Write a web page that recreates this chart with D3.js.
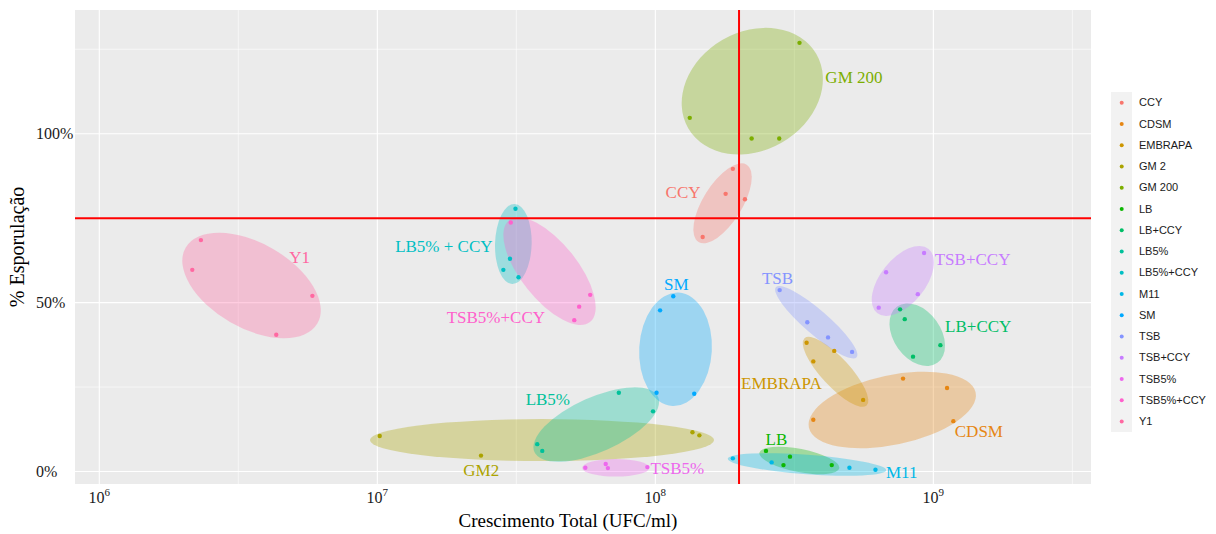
<!DOCTYPE html>
<html>
<head>
<meta charset="utf-8">
<script src="https://cdn.jsdelivr.net/npm/d3@7"></script>
<style>
  body { margin: 0; background: #fff; }
  svg { display: block; }
  .serif { font-family: "Liberation Serif", "Times New Roman", serif; }
  .sans { font-family: "Liberation Sans", Arial, sans-serif; }
</style>
</head>
<body>
<svg id="chart" width="1216" height="534"></svg>
<script>
// groups in legend order (ggplot hue palette, 16 levels)
var groups = ['CCY', 'CDSM', 'EMBRAPA', 'GM 2', 'GM 200', 'LB', 'LB+CCY', 'LB5%',
              'LB5%+CCY', 'M11', 'SM', 'TSB', 'TSB+CCY', 'TSB5%', 'TSB5%+CCY', 'Y1'];
var group_colors = ['#F8766D', '#E68613', '#CD9600', '#ABA300', '#7CAE00', '#0CB702', '#00BE67', '#00C19A',
                    '#00BFC4', '#00B8E7', '#00A9FF', '#8494FF', '#C77CFF', '#ED68ED', '#FF61CC', '#FF68A1'];

// crescimento total (UFC/ml), 4 replicates per group
var ufc_values = [
  [1.90e8, 1.79e8, 2.10e8, 1.48e8],
  [7.78e8, 1.12e9, 3.70e8, 1.18e9],
  [3.50e8, 4.40e8, 3.70e8, 5.59e8],
  [1.02e7, 2.36e7, 1.36e8, 1.44e8],
  [3.30e8, 1.33e8, 2.22e8, 2.79e8],
  [2.50e8, 3.05e8, 2.89e8, 4.31e8],
  [7.59e8, 7.89e8, 1.06e9, 8.45e8],
  [7.39e7, 9.81e7, 3.76e7, 3.92e7],
  [3.14e7, 3.00e7, 2.84e7, 3.22e7],
  [1.90e8, 2.62e8, 4.99e8, 6.19e8],
  [1.16e8, 1.04e8, 1.01e8, 1.38e8],
  [2.80e8, 3.52e8, 4.18e8, 5.10e8],
  [9.26e8, 6.76e8, 8.79e8, 6.36e8],
  [5.60e7, 6.63e7, 6.75e7, 9.36e7],
  [3.02e7, 5.83e7, 5.32e7, 5.11e7],
  [2.32e6, 2.16e6, 5.84e6, 4.33e6]
];

// % esporulação
var esp_values = [
  [89.6, 82.2, 80.6, 69.4],
  [27.5, 24.7, 15.3, 14.9],
  [38.1, 35.7, 32.6, 21.2],
  [10.5, 4.7, 11.6, 10.7],
  [126.9, 104.7, 98.6, 98.6],
  [6.1, 4.4, 1.9, 1.9],
  [48.0, 45.1, 37.4, 34.0],
  [23.3, 17.8, 8.1, 6.1],
  [77.8, 63.0, 59.7, 57.5],
  [3.9, 2.7, 1.1, 0.5],
  [51.9, 47.7, 23.3, 23.0],
  [53.7, 44.2, 39.7, 35.4],
  [64.7, 59.0, 52.5, 48.5],
  [1.1, 2.2, 1.0, 1.3],
  [73.7, 52.3, 48.8, 44.8],
  [68.5, 59.7, 52.0, 40.5]
];

// group ellipses: centre (UFC/ml, %), half spread
// along x (decades) and y (%), and correlation
var ell_ufc = [1.745e8, 7.115e8, 4.448e8, 3.912e7, 2.232e8, 3.296e8, 8.75e8, 6.131e7,
               3.085e7, 3.511e8, 1.182e8, 3.791e8, 7.768e8, 7.205e7, 4.163e7, 3.528e6];
var ell_esp = [79.4, 18.2, 29.5, 9.3, 112.6, 3.26, 40.5, 13.9,
               67.35, 2.07, 36.18, 44.2, 56.4, 1.1, 59.3, 55.06];
var ell_dx = [0.105, 0.301, 0.118, 0.619, 0.254, 0.144, 0.100, 0.226,
              0.066, 0.285, 0.131, 0.148, 0.112, 0.121, 0.166, 0.249];
var ell_dy = [11.84, 11.34, 10.36, 6.22, 18.74, 4.09, 9.27, 11.01,
              11.84, 3.35, 16.79, 10.72, 10.36, 2.6, 15.93, 15.63];
var ell_rho = [0.65, 0.38, -0.82, 0, 0.19, -0.52, -0.35, 0.61,
               0.05, -0.5, 0.05, -0.9, 0.53, 0, -0.67, -0.47];

// text annotations (UFC/ml, %)
var label_text = ['CCY', 'CDSM', 'EMBRAPA', 'GM2', 'GM 200', 'LB', 'LB+CCY', 'LB5%',
                  'LB5% + CCY', 'M11', 'SM', 'TSB', 'TSB+CCY', 'TSB5%', 'TSB5%+CCY', 'Y1'];
var label_ufc = [1.258e8, 1.458e9, 2.84e8, 2.366e7, 5.18e8, 2.725e8, 1.45e9, 4.105e7,
                 1.735e7, 7.695e8, 1.19e8, 2.752e8, 1.384e9, 1.20e8, 2.669e7, 5.26e6];
var label_esp = [82.7, 11.9, 26.0, 0.4, 116.7, 9.5, 43.0, 21.4,
                 66.6, -0.2, 55.3, 57.2, 62.7, 0.9, 45.8, 63.4];

// reference lines
var ref_ufc = 2e8;
var ref_esp = 75;

var x_major = [1e6, 1e7, 1e8, 1e9];
var x_minor = [Math.pow(10, 6.5), Math.pow(10, 7.5), Math.pow(10, 8.5), Math.pow(10, 9.5)];
var y_major = [0, 50, 100];
var y_minor = [25, 75, 125];

var panel = {left: 75, right: 1091, top: 10, bottom: 484},
    fill_alpha = 0.33,
    point_r = 2.2;

var svg = d3.select('#chart');

var x = d3.scaleLog()
  .domain([Math.pow(10, 5.9126), Math.pow(10, 9.567)])
  .range([panel.left, panel.right]);

var y = d3.scaleLinear()
  .domain([-3.70, 136.62])
  .range([panel.bottom, panel.top]);

// panel background + grid
svg.append('rect')
  .attr('x', panel.left).attr('y', panel.top)
  .attr('width', panel.right - panel.left)
  .attr('height', panel.bottom - panel.top)
  .attr('fill', '#EBEBEB');

var grid = svg.append('g').attr('class', 'grid');

grid.selectAll('line.xminor').data(x_minor).enter().append('line')
  .attr('x1', function(d) { return x(d); }).attr('x2', function(d) { return x(d); })
  .attr('y1', panel.top).attr('y2', panel.bottom)
  .attr('stroke', '#fff').attr('stroke-width', 0.6);

grid.selectAll('line.yminor').data(y_minor).enter().append('line')
  .attr('y1', function(d) { return y(d); }).attr('y2', function(d) { return y(d); })
  .attr('x1', panel.left).attr('x2', panel.right)
  .attr('stroke', '#fff').attr('stroke-width', 0.6);

grid.selectAll('line.xmajor').data(x_major).enter().append('line')
  .attr('x1', function(d) { return x(d); }).attr('x2', function(d) { return x(d); })
  .attr('y1', panel.top).attr('y2', panel.bottom)
  .attr('stroke', '#fff').attr('stroke-width', 1.1);

grid.selectAll('line.ymajor').data(y_major).enter().append('line')
  .attr('y1', function(d) { return y(d); }).attr('y2', function(d) { return y(d); })
  .attr('x1', panel.left).attr('x2', panel.right)
  .attr('stroke', '#fff').attr('stroke-width', 1.1);

// ellipse from centre, spreads and correlation -> svg ellipse params (pixel space)
function ellipse_params(i) {
  var cx = x(ell_ufc[i]),
      cy = y(ell_esp[i]);
  var hx = x(ell_ufc[i] * Math.pow(10, ell_dx[i])) - cx,
      hy = y(ell_esp[i] - ell_dy[i]) - cy;
  // screen y points down, so flip the sign of the correlation
  var a = hx * hx, c = hy * hy, b = -ell_rho[i] * hx * hy;
  var mid = (a + c) / 2, disc = Math.sqrt((a - c) * (a - c) / 4 + b * b);
  var angle = 0.5 * Math.atan2(2 * b, a - c);
  return {cx: cx, cy: cy, rx: Math.sqrt(mid + disc), ry: Math.sqrt(Math.max(mid - disc, 0)),
          angle: angle * 180 / Math.PI};
}

var group_data = groups.map(function(g, i) {
  var pts = ufc_values[i].map(function(v, j) { return [x(v), y(esp_values[i][j])]; });
  return {name: g, color: group_colors[i], pts: pts, ell: ellipse_params(i)};
});

// ellipses
svg.append('g').attr('class', 'ellipses')
  .selectAll('ellipse')
  .data(group_data)
  .enter()
  .append('ellipse')
  .attr('cx', function(d) { return d.ell.cx; })
  .attr('cy', function(d) { return d.ell.cy; })
  .attr('rx', function(d) { return d.ell.rx; })
  .attr('ry', function(d) { return d.ell.ry; })
  .attr('transform', function(d) { return 'rotate(' + d.ell.angle + ',' + d.ell.cx + ',' + d.ell.cy + ')'; })
  .attr('fill', function(d) { return d.color; })
  .attr('fill-opacity', fill_alpha);

// reference lines
svg.append('line')
  .attr('x1', x(ref_ufc)).attr('x2', x(ref_ufc))
  .attr('y1', panel.top).attr('y2', panel.bottom)
  .attr('stroke', '#FF0000').attr('stroke-width', 2);
svg.append('line')
  .attr('x1', panel.left).attr('x2', panel.right)
  .attr('y1', y(ref_esp)).attr('y2', y(ref_esp))
  .attr('stroke', '#FF0000').attr('stroke-width', 2);

// points
var pg = svg.append('g').attr('class', 'points');
group_data.forEach(function(gd) {
  pg.selectAll(null)
    .data(gd.pts)
    .enter()
    .append('circle')
    .attr('cx', function(p) { return p[0]; })
    .attr('cy', function(p) { return p[1]; })
    .attr('r', point_r)
    .attr('fill', gd.color);
});

// group labels
svg.append('g').attr('class', 'labels serif')
  .selectAll('text')
  .data(label_text)
  .enter()
  .append('text')
  .attr('x', function(d, i) { return x(label_ufc[i]); })
  .attr('y', function(d, i) { return y(label_esp[i]); })
  .attr('dy', '0.34em')
  .attr('text-anchor', 'middle')
  .attr('font-size', 17)
  .attr('fill', function(d, i) { return group_colors[i]; })
  .text(function(d) { return d; });

// x tick labels 10^n
var xt = svg.append('g').attr('class', 'x-ticks serif')
  .selectAll('text')
  .data(x_major)
  .enter()
  .append('text')
  .attr('x', function(d) { return x(d); })
  .attr('y', 503)
  .attr('text-anchor', 'middle')
  .attr('fill', '#1a1a1a');
xt.append('tspan').attr('font-size', 16).text('10');
xt.append('tspan').attr('font-size', 11).attr('dy', -7)
  .text(function(d) { return Math.round(Math.log10(d)); });

// y tick labels
svg.append('g').attr('class', 'y-ticks serif')
  .selectAll('text')
  .data(y_major)
  .enter()
  .append('text')
  .attr('x', 36)
  .attr('y', function(d) { return y(d); })
  .attr('dy', '0.35em')
  .attr('font-size', 16)
  .attr('fill', '#1a1a1a')
  .text(function(d) { return d + '%'; });

// axis titles
svg.append('text')
  .attr('class', 'serif')
  .attr('x', 568)
  .attr('y', 527)
  .attr('text-anchor', 'middle')
  .attr('font-size', 19)
  .attr('fill', '#000')
  .text('Crescimento Total (UFC/ml)');

svg.append('text')
  .attr('class', 'serif')
  .attr('transform', 'translate(24,' + ((panel.top + panel.bottom) / 2) + ') rotate(-90)')
  .attr('text-anchor', 'middle')
  .attr('font-size', 20)
  .attr('fill', '#000')
  .text('% Esporulação');

// legend
var key_h = 21.25,
    legend_x = 1111,
    legend_y = 92;

var legend = svg.append('g').attr('class', 'legend sans');
legend.append('rect')
  .attr('x', legend_x).attr('y', legend_y)
  .attr('width', 21).attr('height', key_h * groups.length)
  .attr('fill', '#F2F2F2');

var entry = legend.selectAll('g.entry')
  .data(groups)
  .enter()
  .append('g')
  .attr('class', 'entry')
  .attr('transform', function(d, i) { return 'translate(' + legend_x + ',' + (legend_y + key_h * (i + 0.5)) + ')'; });

entry.append('circle')
  .attr('cx', 10.7).attr('cy', 0).attr('r', 2)
  .attr('fill', function(d, i) { return group_colors[i]; });

entry.append('text')
  .attr('x', 28).attr('y', 0).attr('dy', '0.35em')
  .attr('font-size', 11)
  .attr('fill', '#1a1a1a')
  .text(function(d) { return d; });
</script>
</body>
</html>
